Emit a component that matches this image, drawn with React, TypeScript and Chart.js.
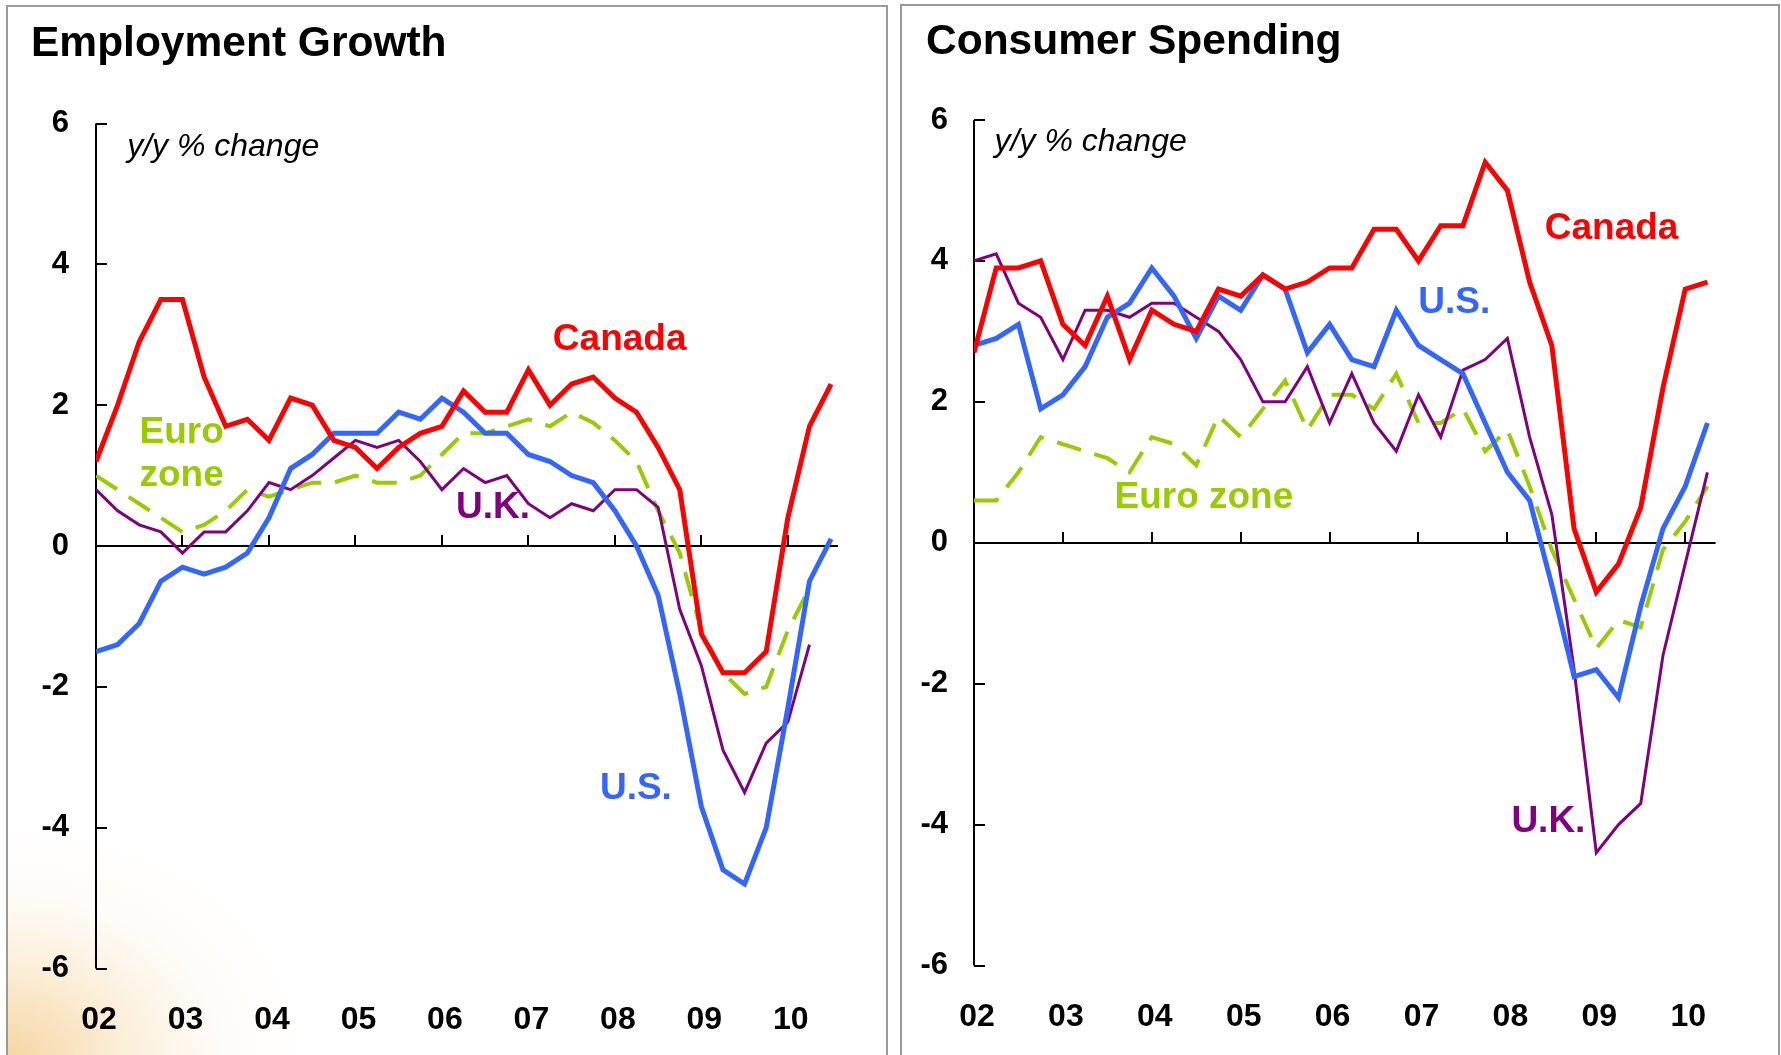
import React, { useEffect, useRef } from "react";
import { Chart, registerables } from "chart.js";

Chart.register(...registerables);

const FONT = '"Liberation Sans", Arial, Helvetica, sans-serif';
const PAGE_H = 1055;

// Quarterly categories (first chart uses all, second stops at 2010Q2)
const quarters = [
  "2002Q1", "2002Q2", "2002Q3", "2002Q4",
  "2003Q1", "2003Q2", "2003Q3", "2003Q4",
  "2004Q1", "2004Q2", "2004Q3", "2004Q4",
  "2005Q1", "2005Q2", "2005Q3", "2005Q4",
  "2006Q1", "2006Q2", "2006Q3", "2006Q4",
  "2007Q1", "2007Q2", "2007Q3", "2007Q4",
  "2008Q1", "2008Q2", "2008Q3", "2008Q4",
  "2009Q1", "2009Q2", "2009Q3", "2009Q4",
  "2010Q1", "2010Q2", "2010Q3",
];
const yearLabels = ["02", "03", "04", "05", "06", "07", "08", "09", "10"];
const yTickValues = [-6, -4, -2, 0, 2, 4, 6];

// Employment Growth, y/y % change
const empCanada = [1.2, 2.0, 2.9, 3.5, 3.5, 2.4, 1.7, 1.8, 1.5, 2.1, 2.0, 1.5, 1.4, 1.1, 1.4, 1.6, 1.7, 2.2, 1.9, 1.9, 2.5, 2.0, 2.3, 2.4, 2.1, 1.9, 1.4, 0.8, -1.25, -1.8, -1.8, -1.5, 0.4, 1.7, 2.3];
const empUS = [-1.5, -1.4, -1.1, -0.5, -0.3, -0.4, -0.3, -0.1, 0.4, 1.1, 1.3, 1.6, 1.6, 1.6, 1.9, 1.8, 2.1, 1.9, 1.6, 1.6, 1.3, 1.2, 1.0, 0.9, 0.5, 0.0, -0.7, -2.1, -3.7, -4.6, -4.8, -4.0, -2.3, -0.5, 0.1];
const empUK = [0.8, 0.5, 0.3, 0.2, -0.1, 0.2, 0.2, 0.5, 0.9, 0.8, 1.0, 1.25, 1.5, 1.4, 1.5, 1.2, 0.8, 1.1, 0.9, 1.0, 0.6, 0.4, 0.6, 0.5, 0.8, 0.8, 0.55, -0.9, -1.7, -2.9, -3.5, -2.8, -2.5, -1.4];
const empEuro = [1.0, 0.8, 0.6, 0.4, 0.2, 0.3, 0.5, 0.8, 0.7, 0.8, 0.9, 0.9, 1.0, 0.9, 0.9, 1.0, 1.3, 1.6, 1.6, 1.7, 1.8, 1.7, 1.9, 1.75, 1.5, 1.2, 0.5, -0.1, -1.2, -1.8, -2.1, -2.0, -1.2, -0.6];

// Consumer Spending, y/y % change
const spendCanada = [2.7, 3.9, 3.9, 4.0, 3.1, 2.8, 3.5, 2.6, 3.3, 3.1, 3.0, 3.6, 3.5, 3.8, 3.6, 3.7, 3.9, 3.9, 4.45, 4.45, 4.0, 4.5, 4.5, 5.4, 5.0, 3.7, 2.8, 0.2, -0.7, -0.3, 0.5, 2.2, 3.6, 3.7];
const spendUS = [2.8, 2.9, 3.1, 1.9, 2.1, 2.5, 3.2, 3.4, 3.9, 3.5, 2.9, 3.5, 3.3, 3.8, 3.6, 2.7, 3.1, 2.6, 2.5, 3.3, 2.8, 2.6, 2.4, 1.7, 1.0, 0.6, -0.6, -1.9, -1.8, -2.2, -0.9, 0.2, 0.8, 1.7];
const spendUK = [4.0, 4.1, 3.4, 3.2, 2.6, 3.3, 3.3, 3.2, 3.4, 3.4, 3.2, 3.0, 2.6, 2.0, 2.0, 2.5, 1.7, 2.4, 1.7, 1.3, 2.1, 1.5, 2.45, 2.6, 2.9, 1.5, 0.4, -1.8, -4.4, -4.0, -3.7, -1.6, -0.3, 1.0];
const spendEuro = [0.6, 0.6, 1.0, 1.5, 1.4, 1.3, 1.2, 1.0, 1.5, 1.4, 1.1, 1.8, 1.5, 1.9, 2.3, 1.6, 2.1, 2.1, 1.9, 2.4, 1.7, 1.7, 1.9, 1.3, 1.6, 0.8, -0.1, -0.8, -1.5, -1.1, -1.2, -0.1, 0.3, 0.8];

const COLORS = {
  canada: "#ff0000",
  us: "#3366ff",
  uk: "#800080",
  euro: "#99cc00",
};

function quarterToX(q: string): number {
  const year = parseInt(q.slice(0, 4), 10);
  const qn = parseInt(q.slice(5), 10);
  return year - 2002 + (qn - 1) / 4;
}

function toPoints(values: number[]) {
  return values.map((v, i) => ({ x: quarterToX(quarters[i]), y: v }));
}

type TextLabel = { text: string; color: string; x: number; y: number; italic?: boolean };

type PanelSpec = {
  left: number;
  width: number;
  title: string;
  titleX: number;
  titleY: number;
  area: { left: number; right: number; top: number; bottom: number };
  xMax: number;
  yPad: number;
  xPad: number;
  canada: number[];
  us: number[];
  uk: number[];
  euro: number[];
  labels: TextLabel[];
};

const panels: PanelSpec[] = [
  {
    left: 0,
    width: 890,
    title: "Employment Growth",
    titleX: 31,
    titleY: 56,
    area: { left: 96, right: 838, top: 123.5, bottom: 968.5 },
    xMax: 8.58,
    yPad: 27,
    xPad: 32,
    canada: empCanada,
    us: empUS,
    uk: empUK,
    euro: empEuro,
    labels: [
      { text: "y/y % change", color: "#000", x: 0.36, y: 5.54, italic: true },
      { text: "Canada", color: COLORS.canada, x: 5.283, y: 2.784 },
      { text: "Euro", color: COLORS.euro, x: 0.503, y: 1.465 },
      { text: "zone", color: COLORS.euro, x: 0.503, y: 0.856 },
      { text: "U.K.", color: COLORS.uk, x: 4.162, y: 0.392 },
      { text: "U.S.", color: COLORS.us, x: 5.827, y: -3.589 },
    ],
  },
  {
    left: 890,
    width: 891,
    title: "Consumer Spending",
    titleX: 36,
    titleY: 53.5,
    area: { left: 84, right: 825.6, top: 120, bottom: 965.5 },
    xMax: 8.342,
    yPad: 26,
    xPad: 32,
    canada: spendCanada,
    us: spendUS,
    uk: spendUK,
    euro: spendEuro,
    labels: [
      { text: "y/y % change", color: "#000", x: 0.232, y: 5.567, italic: true },
      { text: "Canada", color: COLORS.canada, x: 6.42, y: 4.307 },
      { text: "U.S.", color: COLORS.us, x: 4.998, y: 3.256 },
      { text: "Euro zone", color: COLORS.euro, x: 1.58, y: 0.489 },
      { text: "U.K.", color: COLORS.uk, x: 6.045, y: -4.101 },
    ],
  },
];

function Panel({ spec }: { spec: PanelSpec }) {
  const ref = useRef<HTMLCanvasElement | null>(null);

  useEffect(() => {
    const canvas = ref.current;
    if (!canvas) return;

    const decor = {
      id: "decor",
      beforeDatasetsDraw(chart: any) {
        const { ctx, chartArea } = chart;
        const xs = chart.scales.x;
        const ys = chart.scales.y;
        ctx.save();
        ctx.strokeStyle = "#000";
        ctx.lineWidth = 2;
        ctx.lineCap = "butt";
        const x0 = Math.round(chartArea.left);
        // vertical axis
        ctx.beginPath();
        ctx.moveTo(x0, ys.getPixelForValue(6));
        ctx.lineTo(x0, ys.getPixelForValue(-6));
        ctx.stroke();
        // inward ticks
        yTickValues.forEach((v) => {
          if (v === 0) return;
          const py = Math.round(ys.getPixelForValue(v));
          ctx.beginPath();
          ctx.moveTo(x0, py);
          ctx.lineTo(x0 + 11, py);
          ctx.stroke();
        });
        // zero line
        const y0 = Math.round(ys.getPixelForValue(0));
        ctx.beginPath();
        ctx.moveTo(x0, y0);
        ctx.lineTo(chartArea.right, y0);
        ctx.stroke();
        // year ticks
        for (let k = 1; k < yearLabels.length; k++) {
          if (k > spec.xMax) break;
          const px = Math.round(xs.getPixelForValue(k));
          ctx.beginPath();
          ctx.moveTo(px, y0);
          ctx.lineTo(px, y0 - 11);
          ctx.stroke();
        }
        ctx.restore();
      },
      afterDraw(chart: any) {
        const { ctx } = chart;
        const xs = chart.scales.x;
        const ys = chart.scales.y;
        ctx.save();
        ctx.textAlign = "left";
        ctx.textBaseline = "alphabetic";
        ctx.fillStyle = "#000";
        ctx.font = `bold 42.5px ${FONT}`;
        ctx.fillText(spec.title, spec.titleX, spec.titleY);
        spec.labels.forEach((l) => {
          ctx.fillStyle = l.color;
          ctx.font = l.italic ? `italic 32px ${FONT}` : `bold 37px ${FONT}`;
          ctx.fillText(l.text, xs.getPixelForValue(l.x), ys.getPixelForValue(l.y));
        });
        ctx.restore();
      },
    };

    const chart = new Chart(canvas, {
      type: "line",
      data: {
        datasets: [
          {
            label: "Canada",
            data: toPoints(spec.canada),
            borderColor: COLORS.canada,
            borderWidth: 5,
            pointRadius: 0,
            tension: 0,
            fill: false,
            borderJoinStyle: "miter",
          },
          {
            label: "U.S.",
            data: toPoints(spec.us),
            borderColor: COLORS.us,
            borderWidth: 5,
            pointRadius: 0,
            tension: 0,
            fill: false,
            borderJoinStyle: "miter",
          },
          {
            label: "U.K.",
            data: toPoints(spec.uk),
            borderColor: COLORS.uk,
            borderWidth: 3,
            pointRadius: 0,
            tension: 0,
            fill: false,
            borderJoinStyle: "miter",
          },
          {
            label: "Euro zone",
            data: toPoints(spec.euro),
            borderColor: COLORS.euro,
            borderWidth: 4,
            borderDash: [25, 14],
            pointRadius: 0,
            tension: 0,
            fill: false,
            borderJoinStyle: "miter",
          },
        ] as any,
      },
      options: {
        animation: false,
        responsive: false,
        devicePixelRatio: 1,
        events: [],
        layout: {
          padding: {
            left: 0,
            top: spec.area.top,
            right: spec.width - spec.area.right,
            bottom: 0,
          },
        },
        plugins: {
          legend: { display: false },
          tooltip: { enabled: false },
        },
        scales: {
          x: {
            type: "linear",
            position: "bottom",
            min: 0,
            max: spec.xMax,
            grid: { display: false, drawTicks: false },
            border: { display: false },
            ticks: {
              stepSize: 1,
              autoSkip: false,
              maxRotation: 0,
              minRotation: 0,
              includeBounds: false,
              padding: spec.xPad,
              labelOffset: 3,
              color: "#000",
              font: { family: FONT, size: 32, weight: "bold" as const },
              callback: (v: any) => {
                const n = Number(v);
                return Number.isInteger(n) && yearLabels[n] !== undefined ? yearLabels[n] : "";
              },
            },
            afterFit: (s: any) => {
              s.height = PAGE_H - spec.area.bottom;
            },
          },
          y: {
            type: "linear",
            position: "left",
            min: -6,
            max: 6,
            grid: { display: false, drawTicks: false },
            border: { display: false },
            ticks: {
              stepSize: 2,
              padding: spec.yPad,
              color: "#000",
              font: { family: FONT, size: 31, weight: "bold" as const },
              callback: (v: any) => String(v),
            },
            afterFit: (s: any) => {
              s.width = spec.area.left;
            },
          },
        },
      } as any,
      plugins: [decor],
    });

    return () => {
      chart.destroy();
    };
  }, [spec]);

  return (
    <canvas
      ref={ref}
      width={spec.width}
      height={PAGE_H}
      style={{ position: "absolute", left: spec.left, top: 0, width: spec.width, height: PAGE_H }}
    />
  );
}

export default function App() {
  return (
    <div
      style={{
        position: "fixed",
        left: 0,
        top: 0,
        width: 1781,
        height: PAGE_H,
        background: "#ffffff",
        overflow: "hidden",
      }}
    >
      <div
        style={{
          position: "absolute",
          left: 6,
          top: 5,
          width: 882,
          height: PAGE_H - 5,
          boxSizing: "border-box",
          border: "2px solid #9a9a9a",
          borderBottom: "none",
          background:
            "radial-gradient(ellipse 300px 230px at 0% 100%, rgba(240,192,115,0.65) 0%, rgba(247,216,165,0.4) 40%, rgba(252,238,215,0.18) 70%, rgba(255,255,255,0) 100%)",
        }}
      />
      <div
        style={{
          position: "absolute",
          left: 900,
          top: 4,
          width: 880,
          height: PAGE_H - 4,
          boxSizing: "border-box",
          border: "2px solid #9a9a9a",
          borderBottom: "none",
        }}
      />
      {panels.map((p) => (
        <Panel key={p.title} spec={p} />
      ))}
    </div>
  );
}
